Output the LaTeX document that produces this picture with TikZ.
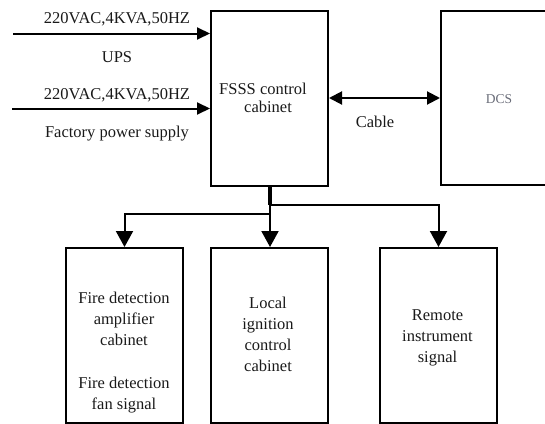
\documentclass[tikz,border=0pt]{standalone}
\usepackage{fontspec}
\setmainfont{Liberation Serif}
\usetikzlibrary{arrows.meta}
\definecolor{ink}{RGB}{25,25,25}
\definecolor{dcsgray}{RGB}{105,108,120}
\tikzset{
  box/.style={draw=black, line width=2pt, inner sep=0pt, anchor=north west},
  lbl/.style={anchor=base, inner sep=0pt, text=ink, font=\fontsize{16.5}{21}\selectfont},
  feed/.style={line width=2pt, -{Triangle[length=13pt,width=12pt]}},
  link/.style={line width=2pt, {Triangle[length=13pt,width=13pt]}-{Triangle[length=13pt,width=13pt]}},
  drop/.style={line width=2pt, -{Triangle[length=16pt,width=17pt]}},
}
\begin{document}
\begin{tikzpicture}[x=1pt,y=-1pt]
\useasboundingbox (0,0) rectangle (545,423);
\clip (0,0) rectangle (545,423);

% cabinets and systems
\node[box, minimum width=117pt, minimum height=175pt] (fsss) at (210,10) {};
\node[box, minimum width=130pt, minimum height=174pt] (dcs) at (440,10) {};
\node[box, minimum width=117pt, minimum height=175pt] (amp) at (65,247) {};
\node[box, minimum width=117pt, minimum height=175pt] (loc) at (210,247) {};
\node[box, minimum width=117pt, minimum height=175pt] (rem) at (379,247) {};

% box texts
\node[lbl] (fs1) at (263,94) {FSSS control};
\node[lbl] (fs2) at (268,112) {cabinet};
\node[lbl, text=dcsgray, font=\fontsize{13.5}{16}\selectfont] (dcst) at (499,103) {DCS};

\node[lbl] (a1) at (124,303) {Fire detection};
\node[lbl] (a2) at (124,324) {amplifier};
\node[lbl] (a3) at (124,345) {cabinet};
\node[lbl] (a4) at (124,388) {Fire detection};
\node[lbl] (a5) at (124,409) {fan signal};

\node[lbl] (l1) at (268,308) {Local};
\node[lbl] (l2) at (268,329) {ignition};
\node[lbl] (l3) at (268,350) {control};
\node[lbl] (l4) at (268,371) {cabinet};

\node[lbl] (r1) at (437.5,320) {Remote};
\node[lbl] (r2) at (437.5,341) {instrument};
\node[lbl] (r3) at (437.5,362) {signal};

% power feeds
\node[lbl] (v1) at (117,23) {220VAC,4KVA,50HZ};
\node[lbl] (ups) at (117,62) {UPS};
\node[lbl] (v2) at (117,99) {220VAC,4KVA,50HZ};
\node[lbl] (fps) at (117,137) {Factory power supply};
\coordinate (upsin) at (13,33.5);
\coordinate (fpsin) at (12,108.5);
\draw[feed] (upsin) -- (upsin -| fsss.west);
\draw[feed] (fpsin) -- (fpsin -| fsss.west);

% cable to DCS
\coordinate (cab) at (0,98);
\draw[link] (cab -| fsss.east) -- (cab -| dcs.west);
\node[lbl] (cable) at (375,127) {Cable};

% distribution to field cabinets
\coordinate (trunk) at (270,185);
\coordinate (splitR) at (270,205);
\coordinate (splitL) at (270,214);
\draw[line width=3.3pt] (trunk) -- (splitR);
\draw[drop] (splitR) -- (splitR |- loc.north);
\draw[drop] (splitR) -| (rem.north);
\draw[drop] (splitL) -| (amp.north);
\end{tikzpicture}
\end{document}
